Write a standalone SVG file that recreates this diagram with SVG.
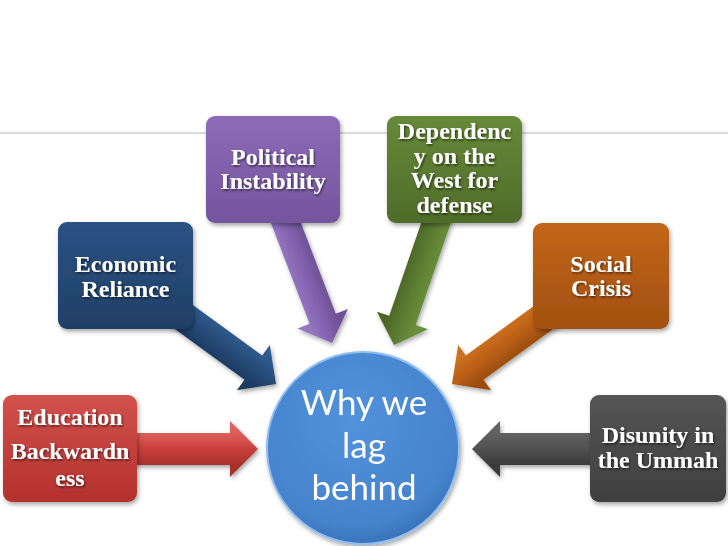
<svg xmlns="http://www.w3.org/2000/svg" width="728" height="546" viewBox="0 0 728 546">
<defs>
<style>
.lbl{font-family:"Liberation Serif","Times New Roman",serif;font-weight:bold;font-size:24px;fill:#ffffff;text-anchor:middle;filter:url(#ts)}
.hub{font-family:Lato,"Open Sans",sans-serif;font-size:35px;fill:#ffffff;text-anchor:middle}
.box{filter:url(#bs)}
</style>
<filter id="ts" x="-20%" y="-30%" width="140%" height="160%"><feDropShadow dx="1" dy="1.5" stdDeviation="0.8" flood-color="#000" flood-opacity="0.6"/></filter>
<filter id="bs" x="-10%" y="-10%" width="125%" height="130%"><feDropShadow dx="1.5" dy="2.5" stdDeviation="2" flood-color="#000" flood-opacity="0.35"/></filter>
<linearGradient id="gRed" x1="0" y1="0" x2="0" y2="1"><stop offset="0" stop-color="#d2524d"/><stop offset="1" stop-color="#b3302c"/></linearGradient>
<linearGradient id="gNavy" x1="0" y1="0" x2="0" y2="1"><stop offset="0" stop-color="#2b5283"/><stop offset="1" stop-color="#1f3f66"/></linearGradient>
<linearGradient id="gPur" x1="0" y1="0" x2="0" y2="1"><stop offset="0" stop-color="#8d6bb8"/><stop offset="1" stop-color="#74559c"/></linearGradient>
<linearGradient id="gGrn" x1="0" y1="0" x2="0" y2="1"><stop offset="0" stop-color="#668a38"/><stop offset="1" stop-color="#4f6b2a"/></linearGradient>
<linearGradient id="gOr" x1="0" y1="0" x2="0" y2="1"><stop offset="0" stop-color="#c2661a"/><stop offset="1" stop-color="#a2500f"/></linearGradient>
<linearGradient id="gGry" x1="0" y1="0" x2="0" y2="1"><stop offset="0" stop-color="#555555"/><stop offset="1" stop-color="#3f3f3f"/></linearGradient>
<linearGradient id="aRed" gradientUnits="userSpaceOnUse" x1="0" y1="-16" x2="0" y2="16"><stop offset="0" stop-color="#de605c"/><stop offset="0.5" stop-color="#c9403c"/><stop offset="1" stop-color="#a8302c"/></linearGradient>
<linearGradient id="aNavy" gradientUnits="userSpaceOnUse" x1="0" y1="-16" x2="0" y2="16"><stop offset="0" stop-color="#2f5a8e"/><stop offset="0.5" stop-color="#264b78"/><stop offset="1" stop-color="#1c3a60"/></linearGradient>
<linearGradient id="aPur" gradientUnits="userSpaceOnUse" x1="0" y1="16" x2="0" y2="-16"><stop offset="0" stop-color="#9676c2"/><stop offset="0.5" stop-color="#8262ae"/><stop offset="1" stop-color="#6c4f94"/></linearGradient>
<linearGradient id="aGrn" gradientUnits="userSpaceOnUse" x1="0" y1="-16" x2="0" y2="16"><stop offset="0" stop-color="#6b8e3c"/><stop offset="0.5" stop-color="#5c7d32"/><stop offset="1" stop-color="#4a6627"/></linearGradient>
<linearGradient id="aOr" gradientUnits="userSpaceOnUse" x1="0" y1="16" x2="0" y2="-16"><stop offset="0" stop-color="#cc7020"/><stop offset="0.5" stop-color="#b85e16"/><stop offset="1" stop-color="#9a4c0e"/></linearGradient>
<linearGradient id="aGry" gradientUnits="userSpaceOnUse" x1="0" y1="16" x2="0" y2="-16"><stop offset="0" stop-color="#626262"/><stop offset="0.5" stop-color="#505050"/><stop offset="1" stop-color="#3a3a3a"/></linearGradient>
<radialGradient id="gHub" cx="0.45" cy="0.35" r="0.65"><stop offset="0" stop-color="#5292dc"/><stop offset="0.85" stop-color="#4683cc"/><stop offset="1" stop-color="#3a74ba"/></radialGradient>
</defs>
<rect x="0" y="0" width="728" height="546" fill="#ffffff"/>
<line x1="0" y1="133" x2="728" y2="133" stroke="#cfcfcf" stroke-width="1.5"/>
<g id="connectors" class="box">
<path d="M -130,-16 L -28,-16 L -28,-28 L 0,0 L -28,28 L -28,16 L -130,16 Z" transform="translate(258,449)" fill="url(#aRed)"/>
<path d="M -140,-15 L -28,-15 L -28,-28 L 0,0 L -28,28 L -28,15 L -140,15 Z" transform="translate(276,384) rotate(36)" fill="url(#aNavy)"/>
<path d="M -150,-14 L -26,-14 L -26,-27 L 0,0 L -26,27 L -26,14 L -150,14 Z" transform="translate(332,343) rotate(69)" fill="url(#aPur)"/>
<path d="M -150,-14 L -26,-14 L -26,-27 L 0,0 L -26,27 L -26,14 L -150,14 Z" transform="translate(394,345) rotate(109)" fill="url(#aGrn)"/>
<path d="M -140,-15 L -28,-15 L -28,-28 L 0,0 L -28,28 L -28,15 L -140,15 Z" transform="translate(452,384) rotate(144)" fill="url(#aOr)"/>
<path d="M -130,-16 L -28,-16 L -28,-28 L 0,0 L -28,28 L -28,16 L -130,16 Z" transform="translate(472,449) rotate(180)" fill="url(#aGry)"/>
</g>
<g id="hub">
<circle cx="363" cy="448" r="96" fill="url(#gHub)" stroke="#8fbdf0" stroke-width="2" filter="url(#bs)"/>
<text class="hub" x="364" y="415">Why we</text>
<text class="hub" x="364" y="458">lag</text>
<text class="hub" x="364" y="500">behind</text>
</g>
<g id="education">
<rect class="box" x="3" y="395" width="134" height="107" rx="9" fill="url(#gRed)"/>
<text class="lbl" x="70" y="425">Education</text>
<text class="lbl" x="70" y="459">Backwardn</text>
<text class="lbl" x="70" y="486">ess</text>
</g>
<g id="economic">
<rect class="box" x="58" y="222" width="135" height="107" rx="9" fill="url(#gNavy)"/>
<text class="lbl" x="125.5" y="272">Economic</text>
<text class="lbl" x="125.5" y="297">Reliance</text>
</g>
<g id="political">
<rect class="box" x="206" y="116" width="134" height="107" rx="9" fill="url(#gPur)"/>
<text class="lbl" x="273" y="165">Political</text>
<text class="lbl" x="273" y="189">Instability</text>
</g>
<g id="dependency">
<rect class="box" x="387" y="116" width="135" height="107" rx="9" fill="url(#gGrn)"/>
<text class="lbl" x="454.5" y="139">Dependenc</text>
<text class="lbl" x="454.5" y="164">y on the</text>
<text class="lbl" x="454.5" y="188">West for</text>
<text class="lbl" x="454.5" y="213">defense</text>
</g>
<g id="social">
<rect class="box" x="533" y="223" width="136" height="106" rx="9" fill="url(#gOr)"/>
<text class="lbl" x="601" y="272">Social</text>
<text class="lbl" x="601" y="296">Crisis</text>
</g>
<g id="disunity">
<rect class="box" x="590" y="395" width="136" height="107" rx="9" fill="url(#gGry)"/>
<text class="lbl" x="658" y="443">Disunity in</text>
<text class="lbl" x="658" y="468">the Ummah</text>
</g>
</svg>
